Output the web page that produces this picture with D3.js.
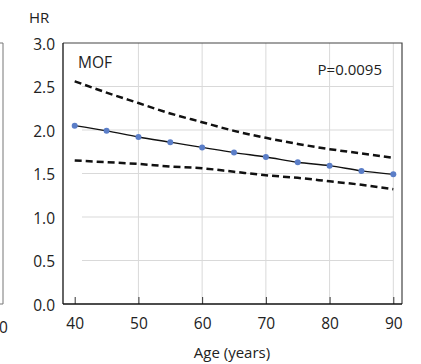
<!DOCTYPE html>
<html>
<head>
<meta charset="utf-8">
<script src="https://cdn.jsdelivr.net/npm/d3@7"></script>
<style>
  body { margin: 0; background: #fff; }
  text { font-family: "Open Sans", sans-serif; fill: #222; }
</style>
</head>
<body>
<script>
// chart data
let ages = [40, 45, 50, 55, 60, 65, 70, 75, 80, 85, 90];
let hr = [2.05, 1.99, 1.92, 1.86, 1.80, 1.74, 1.69, 1.63, 1.59, 1.53, 1.49];
let upper = [2.56, 2.43, 2.31, 2.19, 2.09, 1.99, 1.91, 1.84, 1.78, 1.73, 1.68];
let lower = [1.65, 1.63, 1.61, 1.58, 1.56, 1.52, 1.48, 1.45, 1.41, 1.37, 1.32];
let xTicks = [40, 50, 60, 70, 80, 90];
let yTicks = [0, 0.5, 1.0, 1.5, 2.0, 2.5, 3.0];

let w = 421, h = 364;
let padL = 63, padR = 402, padT = 43, padB = 304;

let svg = d3.select("body").append("svg")
  .attr("width", w)
  .attr("height", h);

let xScale = d3.scaleLinear().domain([40, 90]).range([74.7, 393.3]);
let yScale = d3.scaleLinear().domain([0, 3]).range([padB, padT]);

// gridlines
svg.append("g").selectAll("line")
  .data(xTicks.slice(1))
  .join("line")
  .attr("x1", d => xScale(d)).attr("x2", d => xScale(d))
  .attr("y1", padT).attr("y2", padB)
  .attr("stroke", "#d9d9d9").attr("stroke-width", 1);

svg.append("g").selectAll("line")
  .data(yTicks.slice(1, -1))
  .join("line")
  .attr("x1", 82).attr("x2", xScale(90))
  .attr("y1", d => yScale(d)).attr("y2", d => yScale(d))
  .attr("stroke", "#d9d9d9").attr("stroke-width", 1);

// box
svg.append("path")
  .attr("d", `M${padL},${padT}H${padR}V${padB}`)
  .attr("fill", "none").attr("stroke", "#444").attr("stroke-width", 1.2);

// axes
let xAxis = d3.axisBottom(xScale).tickValues(xTicks).tickSize(-7).tickPadding(14).tickSizeOuter(0);
let gx = svg.append("g")
  .attr("transform", "translate(0," + padB + ")")
  .call(xAxis);
gx.select(".domain").remove();
gx.append("line").attr("x1", padL).attr("x2", padR).attr("stroke", "#111").attr("stroke-width", 1.3);
gx.selectAll(".tick line").attr("stroke", "#333");
gx.selectAll("text").attr("font-size", 15.5).attr("fill", "#222").attr("font-family", "Open Sans");

let yAxis = d3.axisLeft(yScale).tickValues(yTicks).tickSize(0).tickPadding(8).tickFormat(d3.format(".1f"));
let gy = svg.append("g")
  .attr("transform", "translate(" + padL + ",0)")
  .call(yAxis);
gy.select(".domain").remove();
gy.append("line").attr("y1", padT).attr("y2", padB).attr("stroke", "#111").attr("stroke-width", 1.3);
gy.selectAll("text").attr("font-size", 15.5).attr("fill", "#222").attr("font-family", "Open Sans").attr("dy", "0.4em");

// neighbouring panel edge
svg.append("path")
  .attr("d", `M0,${padT}H3V${padB}H0`)
  .attr("fill", "none").attr("stroke", "#777").attr("stroke-width", 1);
svg.append("text").attr("x", -1).attr("y", 333)
  .attr("font-size", 15.5).text("0");

// lines
let line = (vals) => d3.line()
  .x((d, i) => xScale(ages[i]))
  .y(d => yScale(d))
  .curve(d3.curveMonotoneX)(vals);

svg.append("path").attr("d", line(upper))
  .attr("fill", "none").attr("stroke", "#111").attr("stroke-width", 2.5)
  .attr("stroke-dasharray", "7,4");
svg.append("path").attr("d", line(lower))
  .attr("fill", "none").attr("stroke", "#111").attr("stroke-width", 2.5)
  .attr("stroke-dasharray", "7,4");
svg.append("path").attr("d", line(hr))
  .attr("fill", "none").attr("stroke", "#111").attr("stroke-width", 1.4);

svg.append("g").selectAll("circle")
  .data(hr)
  .join("circle")
  .attr("cx", (d, i) => xScale(ages[i]))
  .attr("cy", d => yScale(d))
  .attr("r", 3)
  .attr("fill", "#5b7ec8");

// labels
svg.append("text").attr("x", 29).attr("y", 23).attr("font-size", 15).text("HR");
svg.append("text").attr("x", 78).attr("y", 68).attr("font-size", 15.5).text("MOF");
svg.append("text").attr("x", 382).attr("y", 75).attr("text-anchor", "end")
  .attr("font-size", 15).text("P=0.0095");
svg.append("text").attr("x", 232).attr("y", 358).attr("text-anchor", "middle")
  .attr("font-size", 15).text("Age (years)");
</script>
</body>
</html>
